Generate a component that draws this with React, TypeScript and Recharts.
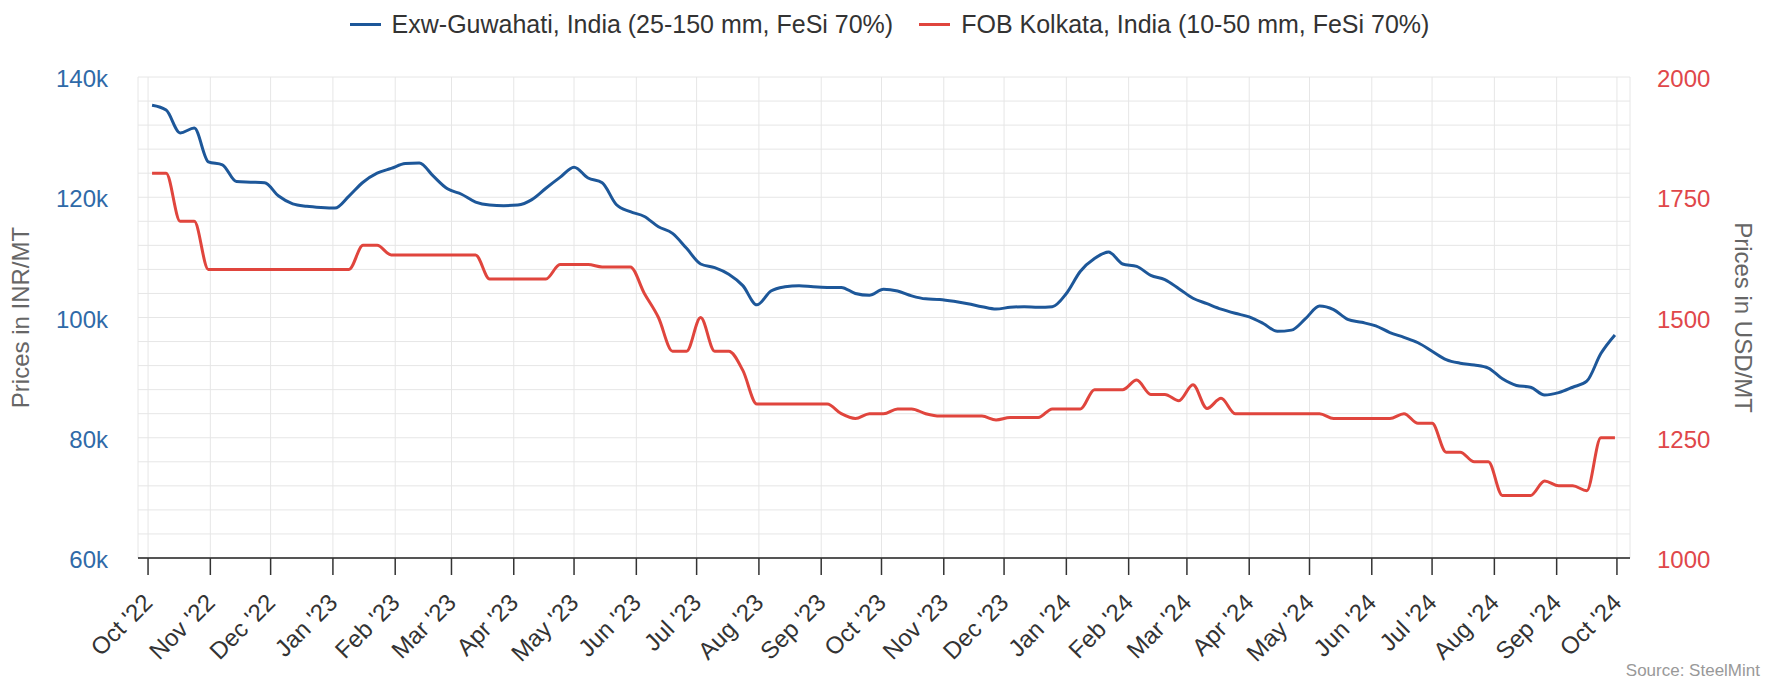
import { CartesianGrid, Legend, Line, LineChart, XAxis, YAxis } from "recharts";

const DAY = 86400000;
const firstWeek = Date.UTC(2022, 9, 3);

// weekly assessments, INR/MT
const guwahatiInr = [
  135300, 134500, 130700, 131500, 125900, 125400, 122600, 122500, 122400, 120200,
  118900, 118500, 118300, 118200, 120200, 122500, 124000, 124800, 125600, 125700,
  123500, 121400, 120500, 119200, 118700, 118600, 118700, 119600, 121500, 123300,
  125000, 123200, 122400, 118800, 117600, 116800, 115100, 114000, 111500, 108900,
  108300, 107200, 105300, 102100, 104400, 105100, 105300, 105100, 105000, 105000,
  104000, 103700, 104700, 104400, 103600, 103100, 103000, 102700, 102300, 101800,
  101400, 101700, 101800, 101700, 101800, 104000, 107700, 109800, 110900, 108900,
  108500, 107000, 106300, 104800, 103200, 102300, 101400, 100700, 100100, 99000,
  97700, 97900, 99800, 101900, 101300, 99700, 99200, 98600, 97500, 96700,
  95800, 94400, 93000, 92400, 92100, 91600, 89800, 88700, 88400, 87100,
  87500, 88400, 89400, 94000, 97100,
];

// weekly assessments, USD/MT
const kolkataUsd = [
  1800, 1800, 1700, 1700, 1600, 1600, 1600, 1600, 1600, 1600,
  1600, 1600, 1600, 1600, 1600, 1650, 1650, 1630, 1630, 1630,
  1630, 1630, 1630, 1630, 1580, 1580, 1580, 1580, 1580, 1610,
  1610, 1610, 1605, 1605, 1605, 1550, 1500, 1430, 1430, 1500,
  1430, 1430, 1390, 1320, 1320, 1320, 1320, 1320, 1320, 1300,
  1290, 1300, 1300, 1310, 1310, 1300, 1295, 1295, 1295, 1295,
  1287, 1292, 1292, 1292, 1310, 1310, 1310, 1350, 1350, 1350,
  1370, 1340, 1340, 1327, 1360, 1311, 1332, 1300, 1300, 1300,
  1300, 1300, 1300, 1300, 1290, 1290, 1290, 1290, 1290, 1300,
  1280, 1280, 1220, 1220, 1200, 1200, 1130, 1130, 1130, 1160,
  1150, 1150, 1140, 1250, 1250,
];

const monthLabels = [
  "Oct '22", "Nov '22", "Dec '22", "Jan '23", "Feb '23", "Mar '23", "Apr '23",
  "May '23", "Jun '23", "Jul '23", "Aug '23", "Sep '23", "Oct '23", "Nov '23",
  "Dec '23", "Jan '24", "Feb '24", "Mar '24", "Apr '24", "May '24", "Jun '24",
  "Jul '24", "Aug '24", "Sep '24", "Oct '24",
];
const monthTicks = monthLabels.map((_, i) => Date.UTC(2022, 9 + i, 1));

const inrTicks = Array.from({ length: 21 }, (_, i) => 60000 + i * 4000);
const usdTicks = Array.from({ length: 21 }, (_, i) => 1000 + i * 50);

const BLUE = "#1d5799";
const RED = "#e0453d";

const rows = guwahatiInr.map((inr, i) => ({
  t: firstWeek + i * 7 * DAY,
  inr,
  usd: kolkataUsd[i],
}));

function MonthTick({ x, y, payload }: any) {
  const idx = monthTicks.indexOf(payload.value);
  const ax = x + 6;
  const ay = y + 27;
  return (
    <text
      x={ax}
      y={ay}
      transform={`rotate(-45 ${ax} ${ay})`}
      textAnchor="end"
      fill="#333"
      fontSize={24}
    >
      {monthLabels[idx]}
    </text>
  );
}

function InrTick({ x, y, payload }: any) {
  if (payload.value % 20000 !== 0) return null;
  return (
    <text x={x} y={y} dy={10} textAnchor="end" fill="#2f6aa8" fontSize={24}>
      {payload.value / 1000}k
    </text>
  );
}

function UsdTick({ x, y, payload }: any) {
  if (payload.value % 250 !== 0) return null;
  return (
    <text x={x} y={y} dy={10} textAnchor="start" fill="#e0474a" fontSize={24}>
      {payload.value}
    </text>
  );
}

function LegendRow({ payload }: any) {
  return (
    <div
      style={{
        height: 48,
        display: "flex",
        justifyContent: "center",
        alignItems: "center",
        fontSize: 25,
        color: "#333",
      }}
    >
      {(payload ?? []).map((p: any, i: number) => (
        <div
          key={p.value}
          style={{ display: "flex", alignItems: "center", marginLeft: i ? 26 : 0 }}
        >
          <span
            style={{ width: 31, height: 3, background: p.color, marginRight: 11, display: "inline-block" }}
          />
          <span>{p.value}</span>
        </div>
      ))}
    </div>
  );
}

export default function App() {
  return (
    <div
      style={{
        position: "absolute",
        left: 0,
        top: 0,
        width: 1779,
        height: 681,
        background: "#fff",
        fontFamily: '"Liberation Sans", Arial, sans-serif',
      }}
    >
      <LineChart
        width={1779}
        height={681}
        data={rows}
        margin={{ top: 29, right: 0, bottom: 0, left: 0 }}
      >
        <CartesianGrid stroke="#e6e6e6" xAxisId="t" yAxisId="inr" />
        <XAxis
          xAxisId="t"
          dataKey="t"
          type="number"
          domain={[Date.UTC(2022, 8, 26), Date.UTC(2024, 9, 7, 12)]}
          ticks={monthTicks}
          interval={0}
          height={123}
          tickSize={17}
          axisLine={{ stroke: "#555", strokeWidth: 2 }}
          tickLine={{ stroke: "#333", strokeWidth: 1.5 }}
          tick={<MonthTick />}
        />
        <YAxis
          yAxisId="inr"
          domain={[60000, 140000]}
          ticks={inrTicks}
          interval={0}
          width={138}
          axisLine={false}
          tickLine={false}
          tickSize={0}
          tickMargin={30}
          tick={<InrTick />}
          label={{
            value: "Prices in INR/MT",
            angle: -90,
            position: "insideLeft",
            offset: 20,
            textAnchor: "middle",
            style: { textAnchor: "middle", fill: "#666", fontSize: 24 },
          }}
        />
        <YAxis
          yAxisId="usd"
          orientation="right"
          domain={[1000, 2000]}
          ticks={usdTicks}
          interval={0}
          width={149}
          axisLine={false}
          tickLine={false}
          tickSize={0}
          tickMargin={27}
          tick={<UsdTick />}
          label={{
            value: "Prices in USD/MT",
            angle: 90,
            position: "insideRight",
            offset: 35,
            textAnchor: "middle",
            style: { textAnchor: "middle", fill: "#666", fontSize: 24 },
          }}
        />
        <Legend
          verticalAlign="top"
          height={48}
          wrapperStyle={{ top: 0, left: 0, width: 1779 }}
          content={<LegendRow />}
        />
        <Line
          xAxisId="t"
          yAxisId="inr"
          name="Exw-Guwahati, India (25-150 mm, FeSi 70%)"
          dataKey="inr"
          type="monotone"
          stroke={BLUE}
          strokeWidth={3}
          dot={false}
          isAnimationActive={false}
        />
        <Line
          xAxisId="t"
          yAxisId="usd"
          name="FOB Kolkata, India (10-50 mm, FeSi 70%)"
          dataKey="usd"
          type="monotone"
          stroke={RED}
          strokeWidth={3}
          dot={false}
          isAnimationActive={false}
        />
      </LineChart>
      <div
        style={{
          position: "absolute",
          right: 19,
          top: 661,
          fontSize: 17,
          color: "#999",
          lineHeight: "20px",
        }}
      >
        Source: SteelMint
      </div>
    </div>
  );
}
